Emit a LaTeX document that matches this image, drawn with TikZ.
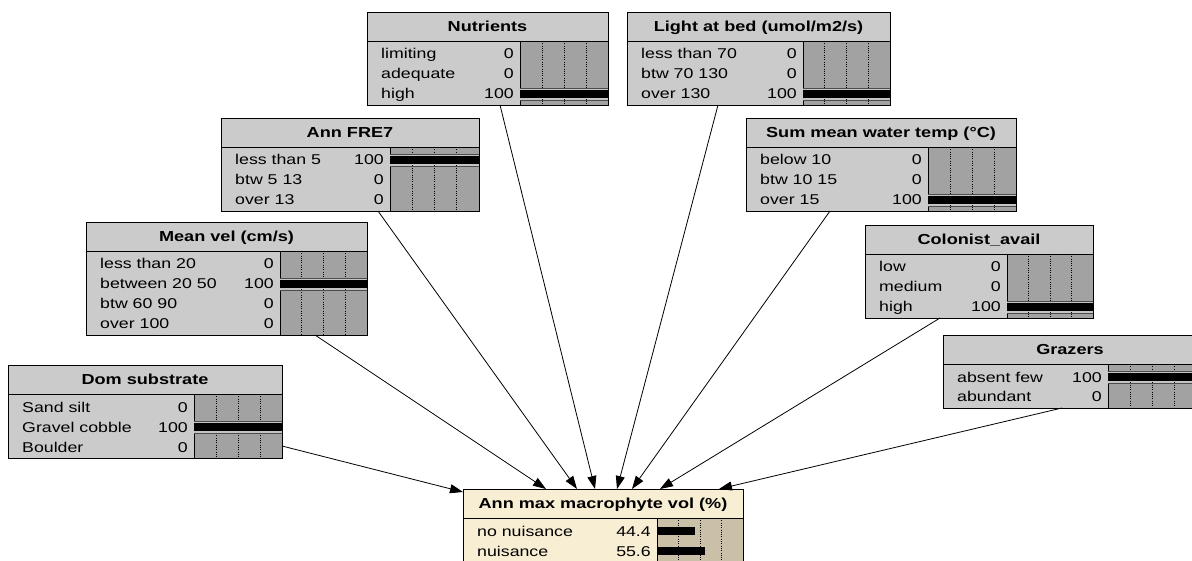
\documentclass[tikz,border=0pt]{standalone}
\usepackage{fontspec}
\setmainfont{Liberation Sans}
\usetikzlibrary{arrows.meta,calc}

\definecolor{netgray}{RGB}{203,203,203}
\definecolor{netbar}{RGB}{162,162,162}
\definecolor{netstrip}{RGB}{196,196,196}
\definecolor{querybg}{RGB}{248,238,212}
\definecolor{querybar}{RGB}{202,192,168}

\newcommand{\wide}[1]{\scalebox{1.25}[1]{#1}}

\tikzset{
  net box/.style={fill=netgray, inner sep=0pt, outer sep=0pt, anchor=north west},
  net bar/.style={fill=netbar},
  query box/.style={fill=querybg, inner sep=0pt, outer sep=0pt, anchor=north west},
  query bar/.style={fill=querybar},
  boxframe/.style={draw=black, line width=0.9pt},
  gridtick/.style={black, line width=0.6pt, dash pattern=on 1pt off 1.3pt},
  findstrip/.style={fill=netstrip},
  stripline/.style={draw=black!70, line width=0.5pt},
  belief/.style={fill=black},
  nodetitle/.style={anchor=base, inner sep=0pt, font=\fontsize{14.5}{16}\selectfont\bfseries},
  statename/.style={anchor=base west, inner sep=0pt, font=\fontsize{14.2}{16}\selectfont},
  stateval/.style={anchor=base east, inner sep=0pt, font=\fontsize{14.2}{16}\selectfont},
  link/.style={-{Triangle[length=13pt,width=9pt]}, line width=0.8pt},
}

% #1 scheme, #2 name, #3 left, #4 top, #5 width, #6 bar column start, #7 states, #8 title
\newcommand{\beliefnode}[8][net]{%
  \def\bx{#3}\def\by{#4}\def\bw{#5}\def\bb{#6}%
  \pgfmathsetmacro\bh{33+20*#7}%
  \pgfmathsetmacro\bc{#5-#6}%
  \node[#1 box, minimum width=#5pt, minimum height=\bh pt] (#2) at (#3,#4) {};
  \fill[#1 bar] (#3+#6,#4+29) rectangle (#3+#5,#4+\bh);
  \foreach \q in {1,2,3}
    \draw[gridtick] (#3+#6+\bc*\q/4,#4+29) -- (#3+#6+\bc*\q/4,#4+\bh);
  \draw[boxframe] (#3,#4+29) -- (#3+#5,#4+29) (#3+#6,#4+29) -- (#3+#6,#4+\bh);
  \node[nodetitle] at (#3+#5/2,#4+19.5) {\wide{#8}};
}

% #1 index, #2 state, #3 value, #4 belief (percent)
\newcommand{\staterow}[4]{%
  \pgfmathsetmacro\ry{\by+42+20*#1}%
  \node[statename] at (\bx+14,\ry+5) {\wide{#2}};
  \node[stateval] at (\bx+\bb-6,\ry+5) {\wide{#3}};
  \fill[belief] (\bx+\bb,\ry-4) rectangle (\bx+\bb+\bc*#4/100,\ry+4);
}

% observed state: #1 index, #2 state, #3 value
\newcommand{\findrow}[3]{%
  \pgfmathsetmacro\ry{\by+42+20*#1}%
  \node[statename] at (\bx+14,\ry+5) {\wide{#2}};
  \node[stateval] at (\bx+\bb-6,\ry+5) {\wide{#3}};
  \fill[findstrip] (\bx+\bb,\ry-6) rectangle (\bx+\bw,\ry+6);
  \foreach \q in {1,2,3}
    \draw[gridtick] (\bx+\bb+\bc*\q/4,\ry-6) -- (\bx+\bb+\bc*\q/4,\ry+6);
  \draw[stripline] (\bx+\bb,\ry-6) -- (\bx+\bw,\ry-6) (\bx+\bb,\ry+6) -- (\bx+\bw,\ry+6);
  \fill[belief] (\bx+\bb,\ry-4) rectangle (\bx+\bw,\ry+4);
}

\begin{document}
\begin{tikzpicture}[x=1pt,y=-1pt]
  \clip (0,0) rectangle (1192,561);
  \fill[white] (0,0) rectangle (1192,561);

  % nodes
  \beliefnode{nutrients}{367}{12}{241}{153}{3}{Nutrients}
  \staterow{0}{limiting}{0}{0}
  \staterow{1}{adequate}{0}{0}
  \findrow{2}{high}{100}

  \beliefnode{light}{627}{12}{263}{176}{3}{Light at bed (umol/m2/s)}
  \staterow{0}{less than 70}{0}{0}
  \staterow{1}{btw 70 130}{0}{0}
  \findrow{2}{over 130}{100}

  \beliefnode{fre}{221}{118}{258}{169}{3}{Ann FRE7}
  \findrow{0}{less than 5}{100}
  \staterow{1}{btw 5 13}{0}{0}
  \staterow{2}{over 13}{0}{0}

  \beliefnode{temp}{746}{118}{270}{182}{3}{Sum mean water temp (°C)}
  \staterow{0}{below 10}{0}{0}
  \staterow{1}{btw 10 15}{0}{0}
  \findrow{2}{over 15}{100}

  \beliefnode{vel}{86}{222}{281}{194}{4}{Mean vel (cm/s)}
  \staterow{0}{less than 20}{0}{0}
  \findrow{1}{between 20 50}{100}
  \staterow{2}{btw 60 90}{0}{0}
  \staterow{3}{over 100}{0}{0}

  \beliefnode{colonist}{865}{225}{228}{142}{3}{Colonist\_avail}
  \staterow{0}{low}{0}{0}
  \staterow{1}{medium}{0}{0}
  \findrow{2}{high}{100}

  \beliefnode{grazers}{943}{335}{254}{165}{2}{Grazers}
  \findrow{0}{absent few}{100}
  \staterow{1}{abundant}{0}{0}

  \beliefnode{substrate}{8}{365}{274}{186}{3}{Dom substrate}
  \staterow{0}{Sand silt}{0}{0}
  \findrow{1}{Gravel cobble}{100}
  \staterow{2}{Boulder}{0}{0}

  % query node
  \beliefnode[query]{macro}{463}{489}{280}{194}{2}{Ann max macrophyte vol (\%)}
  \staterow{0}{no nuisance}{44.4}{44.4}
  \staterow{1}{nuisance}{55.6}{55.6}

  % frames
  \foreach \n in {nutrients,light,fre,temp,vel,colonist,grazers,substrate,macro}
    \draw[boxframe] (\n.north west) rectangle (\n.south east);

  % edges
  \draw[link] ([xshift=133pt]nutrients.south west) -- ([xshift=132pt]macro.north west);
  \draw[link] ([xshift=91pt]light.south west) -- ([xshift=154pt]macro.north west);
  \draw[link] ([xshift=157pt]fre.south west) -- ([xshift=114pt]macro.north west);
  \draw[link] ([xshift=84pt]temp.south west) -- ([xshift=169pt]macro.north west);
  \draw[link] ([xshift=229pt]vel.south west) -- ([xshift=83pt]macro.north west);
  \draw[link] ([xshift=75pt]colonist.south west) -- ([xshift=197pt]macro.north west);
  \draw[link] ([xshift=119pt]grazers.south west) -- ([xshift=256pt]macro.north west);
  \draw[link] ([yshift=-81pt]substrate.north east) -- ([yshift=-3pt]macro.north west);

\end{tikzpicture}
\end{document}
